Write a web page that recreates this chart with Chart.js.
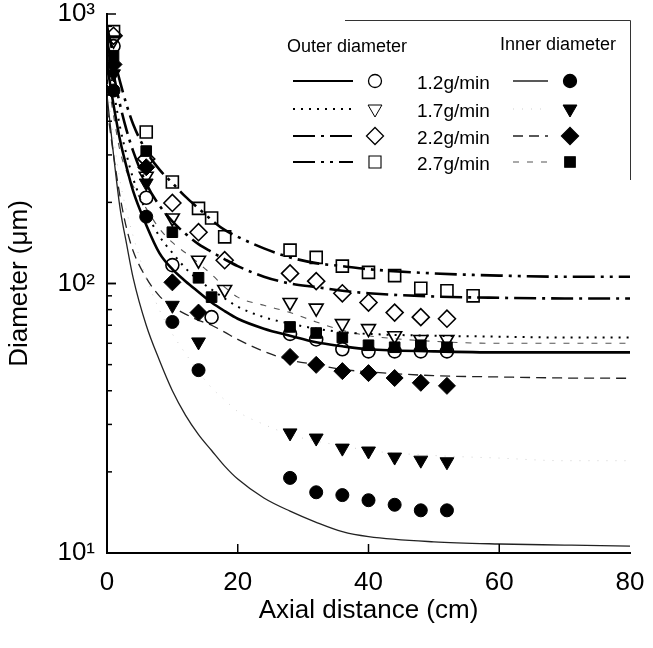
<!DOCTYPE html>
<html>
<head>
<meta charset="utf-8">
<script src="https://cdn.jsdelivr.net/npm/chart.js@4.4.1/dist/chart.umd.min.js"></script>
<style>
  html, body { margin: 0; padding: 0; background: #fff; }
</style>
</head>
<body>
<canvas id="diamChart" width="653" height="648"></canvas>
<script>
// fitted curves all use the same axial positions (cm)
const curveX = [0, 1, 2, 3, 4, 6, 8, 10, 12, 14, 16, 18, 20, 24, 28, 32, 36, 40, 50, 60, 70, 80];

// outer diameter fits (um)
const outerFit12 = [650, 460, 340, 270, 220, 165, 130, 113, 102, 93, 85, 79, 74, 68, 64, 60.5, 58.5, 57, 56, 55.5, 55.5, 55.5];
const outerFit17 = [700, 520, 380, 300, 245, 185, 150, 130, 114, 103, 95, 88, 82, 75, 71, 68, 66, 65, 64, 63.5, 63, 63];
const outerFit22 = [800, 600, 460, 370, 310, 235, 195, 170, 153, 140, 131, 123, 116, 106, 100, 97, 94, 92, 89.5, 88.5, 88, 88];
const outerFit27 = [900, 700, 560, 460, 390, 310, 265, 236, 210, 190, 172, 158, 149, 135, 125, 119, 116, 113, 109, 107, 106, 106];

// inner diameter fits (um)
const innerFit12 = [500, 300, 190, 140, 105, 70, 52, 40, 32.5, 27.5, 24, 21, 18.8, 16, 14.3, 13, 12, 11.5, 11, 10.8, 10.7, 10.6];
const innerFit17 = [550, 350, 240, 185, 150, 105, 80, 65, 55, 47, 41, 37, 33.5, 30, 27.5, 26, 25, 24, 23, 22.5, 22, 22];
const innerFit22 = [450, 300, 210, 160, 132, 105, 90, 82, 77, 73, 70, 66, 62, 56, 52, 50, 48, 47, 45.5, 45, 44.6, 44.5];
const innerFit27 = [600, 420, 310, 260, 230, 190, 160, 142, 130, 119, 108, 97, 89, 83, 78, 72, 67, 64, 61, 60, 60, 60];

// measured points
const outerX12 = [1, 6, 10, 16, 28, 32, 36, 40, 44, 48, 52];
const outerY12 = [760, 208, 117, 75, 65, 62, 57, 56, 56, 56, 56];
const outerX17 = [1, 6, 10, 14, 18, 28, 32, 36, 40, 44, 48, 52];
const outerY17 = [800, 250, 175, 122, 95, 85, 81, 71, 68, 64, 62, 62];
const outerX22 = [1, 6, 10, 14, 18, 28, 32, 36, 40, 44, 48, 52];
const outerY22 = [830, 290, 199, 155, 122, 109, 102, 92, 85, 78, 75, 74];
const outerX27 = [1, 6, 10, 14, 16, 18, 28, 32, 36, 40, 44, 48, 52, 56];
const outerY27 = [860, 365, 238, 190, 175, 149, 133, 125, 116, 110, 107, 96, 94, 90];

const innerX12 = [1, 6, 10, 14, 28, 32, 36, 40, 44, 48, 52];
const innerY12 = [520, 177, 72, 47.7, 19, 16.8, 16.4, 15.7, 15.1, 14.4, 14.4];
const innerX17 = [1, 6, 10, 14, 28, 32, 36, 40, 44, 48, 52];
const innerY17 = [600, 236, 83, 60.7, 27.9, 26.7, 24.5, 23.9, 22.7, 22.1, 21.8];
const innerX22 = [1, 6, 10, 14, 28, 32, 36, 40, 44, 48, 52];
const innerY22 = [650, 270, 101, 78, 53.4, 49.9, 47.3, 46.5, 44.6, 42.8, 41.7];
const innerX27 = [1, 6, 10, 14, 16, 28, 32, 36, 40, 44, 48, 52];
const innerY27 = [700, 310, 155, 105, 89, 69, 65.5, 63, 59, 58, 59, 58];

const rateLabels = ['1.2g/min', '1.7g/min', '2.2g/min', '2.7g/min'];
const yTicks = [10, 100, 1000];
const supers = ['\u2070', '\u00B9', '\u00B2', '\u00B3'];

const FONT = '"Liberation Sans", Arial, sans-serif';

function curve(label, ys, dash, width, color) {
    return {
        type: 'line', label: label,
        data: curveX.map((x, i) => ({ x: x, y: ys[i] })),
        borderColor: color, borderWidth: width, borderDash: dash,
        pointRadius: 0, fill: false, cubicInterpolationMode: 'monotone',
        order: 3
    };
}

function markers(label, xs, ys, style, filled, radius) {
    return {
        type: 'scatter', label: label,
        data: xs.map((x, i) => ({ x: x, y: ys[i] })),
        showLine: false,
        pointStyle: style,
        pointRotation: style === 'triangle' ? 180 : 0,
        pointRadius: radius,
        pointHoverRadius: radius,
        pointBorderColor: '#000',
        pointBorderWidth: filled ? 1 : 1.6,
        pointBackgroundColor: filled ? '#000' : 'rgba(0,0,0,0)',
        order: filled ? 1 : 2
    };
}

// line styles: outer (thick) and inner (thin)
const outerStyles = [
    { dash: [], width: 2.6, color: '#000' },
    { dash: [2, 6], width: 2, color: '#000' },
    { dash: [22, 6, 3, 6], width: 2.6, color: '#000' },
    { dash: [22, 6, 3, 6, 3, 6], width: 2.6, color: '#000' }
];
const innerStyles = [
    { dash: [], width: 1.3, color: '#222' },
    { dash: [1, 8], width: 1, color: '#cfcfcf' },
    { dash: [10, 6], width: 1.3, color: '#222' },
    { dash: [6, 8], width: 1.1, color: '#555' }
];
const outerMarks = [
    { style: 'circle', r: 6.5 }, { style: 'triangle', r: 8 },
    { style: 'rectRot', r: 8.5 }, { style: 'rect', r: 8.5 }
];
const innerMarks = [
    { style: 'circle', r: 6.5 }, { style: 'triangle', r: 8 },
    { style: 'rectRot', r: 8.5 }, { style: 'rect', r: 7.5 }
];

const outerFits = [outerFit12, outerFit17, outerFit22, outerFit27];
const innerFits = [innerFit12, innerFit17, innerFit22, innerFit27];
const outerXs = [outerX12, outerX17, outerX22, outerX27];
const outerYs = [outerY12, outerY17, outerY22, outerY27];
const innerXs = [innerX12, innerX17, innerX22, innerX27];
const innerYs = [innerY12, innerY17, innerY22, innerY27];

let datasets = [];
for (let i = 0; i < 4; i++) {
    const o = outerStyles[i], n = innerStyles[i];
    datasets.push(curve('outer fit ' + rateLabels[i], outerFits[i], o.dash, o.width, o.color));
    datasets.push(curve('inner fit ' + rateLabels[i], innerFits[i], n.dash, n.width, n.color));
    datasets.push(markers('outer ' + rateLabels[i], outerXs[i], outerYs[i], outerMarks[i].style, false, outerMarks[i].r));
    datasets.push(markers('inner ' + rateLabels[i], innerXs[i], innerYs[i], innerMarks[i].style, true, innerMarks[i].r));
}

// inward tick marks + the hand-made legend
const extras = {
    id: 'extras',
    afterDraw(chart) {
        const ctx = chart.ctx;
        const xs = chart.scales.x, ys = chart.scales.y;
        const left = chart.chartArea.left, bottom = chart.chartArea.bottom;
        ctx.save();
        ctx.strokeStyle = '#000';
        ctx.lineWidth = 1.5;
        ctx.setLineDash([]);
        for (let p = 1; p <= 2; p++) {
            for (let m = 1; m <= 10; m++) {
                const v = m * Math.pow(10, p);
                const py = ys.getPixelForValue(v);
                const len = (m === 1 || m === 10) ? 9 : 5;
                ctx.beginPath();
                ctx.moveTo(left, py);
                ctx.lineTo(left + len, py);
                ctx.stroke();
            }
        }
        [20, 40, 60].forEach(v => {
            const px = xs.getPixelForValue(v);
            ctx.beginPath();
            ctx.moveTo(px, bottom);
            ctx.lineTo(px, bottom - 9);
            ctx.stroke();
        });

        // legend frame (top and right edges only show)
        ctx.strokeStyle = '#333';
        ctx.lineWidth = 1;
        ctx.beginPath();
        ctx.moveTo(345, 20.5);
        ctx.lineTo(630.5, 20.5);
        ctx.lineTo(630.5, 180);
        ctx.stroke();

        ctx.fillStyle = '#000';
        ctx.font = '18px ' + FONT;
        ctx.textBaseline = 'middle';
        ctx.textAlign = 'left';
        ctx.fillText('Outer diameter', 287, 47);
        ctx.fillText('Inner diameter', 500, 45);

        const rows = [81, 109, 136, 162];
        ctx.font = '19px ' + FONT;
        for (let i = 0; i < 4; i++) {
            const y = rows[i];
            const o = outerStyles[i], n = innerStyles[i];
            ctx.setLineDash(o.dash);
            ctx.lineWidth = Math.min(o.width, 2);
            ctx.strokeStyle = o.color;
            ctx.beginPath(); ctx.moveTo(293, y); ctx.lineTo(353, y); ctx.stroke();
            ctx.setLineDash(n.dash);
            ctx.lineWidth = n.width;
            ctx.strokeStyle = n.color;
            ctx.beginPath(); ctx.moveTo(513, y); ctx.lineTo(548, y); ctx.stroke();
            ctx.setLineDash([]);

            ctx.strokeStyle = '#000';
            ctx.fillStyle = 'rgba(0,0,0,0)';
            Chart.helpers.drawPoint(ctx, {
                pointStyle: outerMarks[i].style, radius: outerMarks[i].r,
                rotation: outerMarks[i].style === 'triangle' ? 180 : 0, borderWidth: 1.6
            }, 375, y);
            ctx.fillStyle = '#000';
            Chart.helpers.drawPoint(ctx, {
                pointStyle: innerMarks[i].style, radius: innerMarks[i].r,
                rotation: innerMarks[i].style === 'triangle' ? 180 : 0, borderWidth: 1
            }, 570, y);

            ctx.fillStyle = '#000';
            ctx.fillText(rateLabels[i], 417, y + 3);
        }
        ctx.restore();
    }
};

const ctx = document.getElementById('diamChart').getContext('2d');
const chart = new Chart(ctx, {
    data: { datasets: datasets },
    plugins: [extras],
    options: {
        responsive: false,
        animation: false,
        layout: { padding: { left: 4, right: 23, top: 14, bottom: 10 } },
        plugins: { legend: { display: false }, tooltip: { enabled: false } },
        scales: {
            x: {
                type: 'linear', min: 0, max: 80,
                grid: { display: false, drawTicks: false },
                border: { display: true, color: '#000', width: 2 },
                ticks: {
                    stepSize: 20, padding: 17, color: '#000',
                    font: { family: FONT, size: 26, lineHeight: 1 },
                    maxRotation: 0
                },
                title: {
                    display: true, text: 'Axial distance (cm)', color: '#000',
                    font: { family: FONT, size: 26 },
                    padding: { top: 0, bottom: 12 }
                },
                afterFit: function (scale) {
                    scale.height = 85;
                    scale.paddingLeft = 0;
                    scale.paddingRight = 0;
                }
            },
            y: {
                type: 'logarithmic', min: 10, max: 1000,
                grid: { display: false, drawTicks: false },
                border: { display: true, color: '#000', width: 2 },
                ticks: {
                    padding: 12, color: '#000',
                    font: { family: FONT, size: 26, lineHeight: 1 },
                    callback: function (v) {
                        const e = Math.round(Math.log10(v));
                        return '10' + supers[e];
                    }
                },
                afterBuildTicks: function (scale) {
                    scale.ticks = yTicks.map(v => ({ value: v }));
                },
                title: {
                    display: true, text: 'Diameter (\u03BCm)', color: '#000',
                    font: { family: FONT, size: 26 },
                    padding: { top: 0, bottom: 0 }
                },
                afterFit: function (scale) {
                    scale.width = 103;
                    scale.paddingTop = 0;
                    scale.paddingBottom = 0;
                }
            }
        }
    }
});
</script>
</body>
</html>
